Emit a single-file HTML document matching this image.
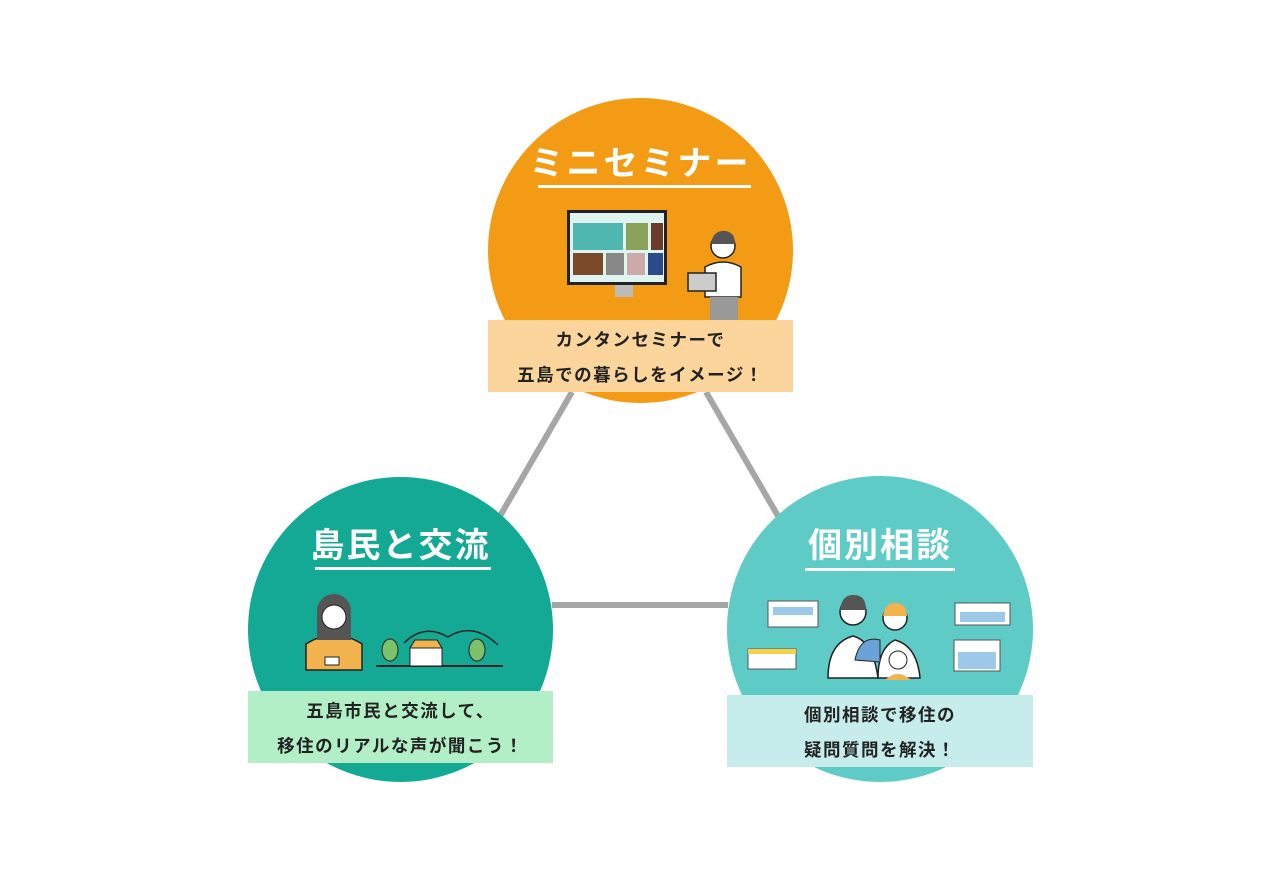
<!DOCTYPE html>
<html><head><meta charset="utf-8"><style>
body{margin:0;width:1280px;height:880px;background:#fff;position:relative;overflow:hidden;font-family:"Liberation Sans","Noto Sans CJK JP",sans-serif}
.c{position:absolute;border-radius:50%}
.t{position:absolute;color:#fff;font-size:34px;font-weight:700;text-align:center;letter-spacing:2px}
.u{position:absolute;height:3px;background:#fff}
.b{position:absolute;text-align:center;font-size:17.5px;font-weight:700;color:#222;line-height:35px;padding-top:3px;box-sizing:border-box;letter-spacing:1.5px}
svg{position:absolute;left:0;top:0}
</style></head><body>
<svg width="1280" height="880">
<line x1="572" y1="392" x2="500" y2="516" stroke="#a6a6a6" stroke-width="6"/>
<line x1="706" y1="392" x2="778" y2="516" stroke="#a6a6a6" stroke-width="6"/>
<line x1="552" y1="605" x2="728" y2="605" stroke="#a6a6a6" stroke-width="6"/>
</svg>
<div class="c" style="left:488px;top:98px;width:305px;height:305px;background:#f39b14"></div>
<div class="c" style="left:248px;top:477px;width:305px;height:305px;background:#14a994"></div>
<div class="c" style="left:727px;top:476px;width:306px;height:306px;background:#5ecbc6"></div>

<div class="t" style="left:488px;width:305px;top:136px;letter-spacing:3px">ミニセミナー</div>
<div class="u" style="left:538px;width:213px;top:185px"></div>
<div class="t" style="left:248px;width:305px;top:518px">島民と交流</div>
<div class="u" style="left:315px;width:176px;top:567px"></div>
<div class="t" style="left:727px;width:306px;top:518px">個別相談</div>
<div class="u" style="left:805px;width:150px;top:568px"></div>

<svg width="1280" height="880">
<rect x="567" y="210" width="100" height="75" fill="#222"/>
<rect x="570" y="213" width="94" height="69" fill="#dff3f0"/>
<rect x="573" y="223" width="50" height="27" fill="#4fb7b0"/><rect x="626" y="223" width="22" height="27" fill="#8aa25a"/><rect x="651" y="223" width="12" height="27" fill="#6a3a2a"/>
<rect x="573" y="253" width="30" height="22" fill="#7a4a2a"/><rect x="606" y="253" width="18" height="22" fill="#888"/><rect x="627" y="253" width="18" height="22" fill="#caa"/><rect x="648" y="253" width="15" height="22" fill="#2a4a8a"/>
<rect x="615" y="285" width="18" height="12" fill="#bbb"/>
<circle cx="723" cy="246" r="12" fill="#fff" stroke="#222" stroke-width="1.5"/>
<path d="M711 244 q2-14 14-13 q10 1 10 13 z" fill="#555"/>
<path d="M705 297 v-30 q18-10 36 0 v30 z" fill="#fff" stroke="#222" stroke-width="1.5"/>
<rect x="710" y="297" width="28" height="25" fill="#999"/>
<rect x="688" y="273" width="28" height="18" fill="#ccc" stroke="#222" stroke-width="1.5"/>
<path d="M306 670 v-26 q28-18 56 0 v26 z" fill="#f2b24d" stroke="#222" stroke-width="1.5"/>
<circle cx="334" cy="611" r="17" fill="#555"/>
<path d="M317 614 v26 h34 v-26 z" fill="#555"/>
<circle cx="334" cy="617" r="12" fill="#fff" stroke="#222"/>
<rect x="325" y="657" width="14" height="8" fill="#fff" stroke="#222"/>
<line x1="376" y1="666" x2="503" y2="666" stroke="#222" stroke-width="2"/>
<path d="M404 643 q20-20 44 -6 q25-16 50 8" fill="none" stroke="#222" stroke-width="1.5"/>
<ellipse cx="390" cy="650" rx="8" ry="11" fill="#7cc26a" stroke="#222"/>
<ellipse cx="477" cy="650" rx="8" ry="11" fill="#7cc26a" stroke="#222"/>
<path d="M410 666 v-18 l5-8 h22 l5 8 v18 z" fill="#fff" stroke="#222"/><path d="M410 648 l5-8 h22 l5 8z" fill="#f2b24d" stroke="#222"/>
<circle cx="853" cy="612" r="13" fill="#fff" stroke="#222" stroke-width="1.5"/><path d="M840 610 q2-16 14-15 q12 0 12 15z" fill="#555"/>
<circle cx="895" cy="618" r="12" fill="#fff" stroke="#222" stroke-width="1.5"/><path d="M883 616 q2-14 13-13 q11 1 11 13z" fill="#f2b24d"/>
<path d="M828 678 q0-35 25-42 q20 5 25 42z" fill="#fff" stroke="#222" stroke-width="1.5"/>
<path d="M878 678 q0-30 17-38 q22 6 25 38z" fill="#fff" stroke="#222" stroke-width="1.5"/>
<path d="M855 660 q5-25 25-20 v22z" fill="#6aa3d8" stroke="#222"/>
<circle cx="898" cy="660" r="9" fill="#fff" stroke="#222"/>
<path d="M885 680 q13-12 26 0z" fill="#f2b24d"/>
<rect x="768" y="601" width="50" height="26" fill="#fff" stroke="#555"/><rect x="773" y="607" width="40" height="8" fill="#9cc8ea"/>
<rect x="748" y="649" width="48" height="20" fill="#fff" stroke="#555"/><path d="M748 649 h48 v5 h-48z" fill="#f5d14a"/>
<rect x="955" y="603" width="55" height="22" fill="#fff" stroke="#555"/><rect x="960" y="612" width="45" height="10" fill="#9cc8ea"/>
<rect x="954" y="640" width="46" height="31" fill="#fff" stroke="#555"/><rect x="958" y="652" width="38" height="17" fill="#9cc8ea"/>
</svg>

<div class="b" style="left:488px;top:320px;width:305px;height:72px;background:#fbd59b">カンタンセミナーで<br>五島での暮らしをイメージ！</div>
<div class="b" style="left:248px;top:691px;width:305px;height:72px;background:#b3efc6">五島市民と交流して、<br>移住のリアルな声が聞こう！</div>
<div class="b" style="left:727px;top:695px;width:306px;height:72px;background:#c6edec">個別相談で移住の<br>疑問質問を解決！</div>
</body></html>
